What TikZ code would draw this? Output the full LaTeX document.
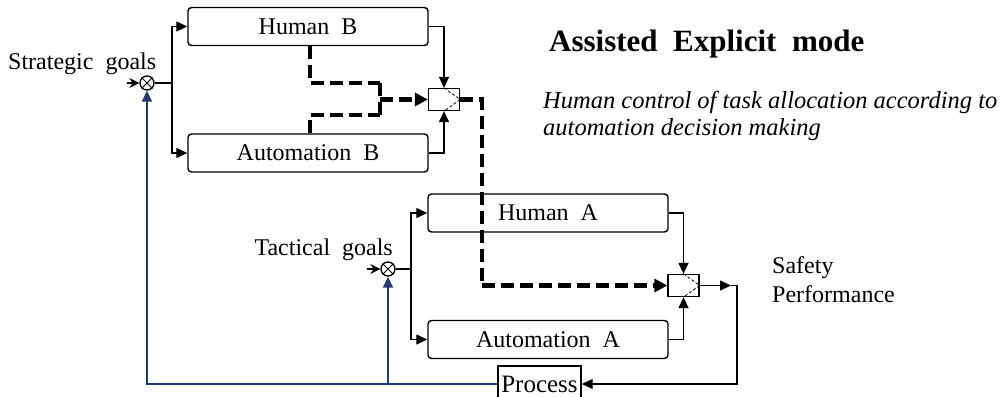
\documentclass[tikz,border=0pt]{standalone}
\usepackage{fontspec}
\setmainfont{Liberation Serif}
\usetikzlibrary{arrows.meta,calc}
\definecolor{navy}{RGB}{31,56,120}
\begin{document}
\begin{tikzpicture}[x=1pt,y=-1pt,
  box/.style={draw,rounded corners=3.5pt,line width=1.4pt,minimum width=240pt,minimum height=38pt,inner sep=0pt,font=\fontsize{24}{28}\selectfont},
  sw/.style={draw,line width=1.3pt,minimum width=31pt,minimum height=22pt,inner sep=0pt},
  sum/.style={draw,circle,line width=1.3pt,minimum size=14pt,inner sep=0pt},
  lbl/.style={inner sep=0pt,font=\fontsize{24}{28}\selectfont},
  arr/.style={line width=1.3pt,-{Triangle[length=11pt,width=10pt]}},
  inarr/.style={line width=1.3pt,-{Stealth[length=10pt,width=10pt]}},
  dsh/.style={line width=4.5pt,dash pattern=on 13pt off 6pt},
  darr/.style={dsh,-{Triangle[length=13pt,width=13pt]}},
  barr/.style={navy,line width=1.5pt,-{Triangle[length=11pt,width=10pt]}},
  ln/.style={line width=1.3pt}]
\useasboundingbox (0,0) rectangle (1008,396);
\clip (0,0) rectangle (1008,396);
% nodes
\node[box] (hb) at (308,26.5) {Human~~B};
\node[box] (ab) at (308,153) {Automation~~B};
\node[box] (ha) at (548,213) {Human~~A};
\node[box] (aa) at (548,339.5) {Automation~~A};
\node[sw] (sb) at (444,99.5) {};
\node[sw] (sa) at (683.5,285.5) {};
\node[sum] (sg) at (147,83) {};
\node[sum] (tg) at (388,269) {};
\node[draw,line width=1.4pt,minimum width=83pt,minimum height=36pt,inner sep=0pt,font=\fontsize{25}{28}\selectfont] (pr) at (539.5,384) {Process};
% cross in sums
\draw[line width=1pt] (sg.north west) -- (sg.south east) (sg.north east) -- (sg.south west);
\draw[line width=1pt] (tg.north west) -- (tg.south east) (tg.north east) -- (tg.south west);
% switch marks
\draw[line width=0.8pt,dash pattern=on 3pt off 2pt] (sb.north) -- (sb.east) -- (sb.south);
\draw[line width=0.8pt,dash pattern=on 3pt off 2pt] (sa.north) -- (sa.east) -- (sa.south);
% texts
\node[lbl,anchor=base west] (stgl) at (8,69) {Strategic~~goals};
\node[lbl,anchor=base east] (tgl) at (393,255) {Tactical~~goals};
\node[lbl,anchor=base west] (sfl) at (772,273) {Safety};
\node[lbl,anchor=base west] (pfl) at (772,302) {Performance};
\node[inner sep=0pt,anchor=base west,font=\fontsize{31}{34}\selectfont\bfseries] (ttl) at (549,52) {Assisted~~Explicit~~mode};
\node[inner sep=0pt,anchor=base west,font=\fontsize{24.5}{28}\selectfont\itshape] (it1) at (543,108) {Human control of task allocation according to};
\node[inner sep=0pt,anchor=base west,font=\fontsize{24.5}{28}\selectfont\itshape] (it2) at (543,135) {automation decision making};
% coordinates
\coordinate (sgin) at (127,83);
\coordinate (sgb) at (172,83);
\coordinate (tgin) at (367,269);
\coordinate (tgb) at (411,269);
\coordinate (d1) at (310,83);
\coordinate (d2) at (380,83);
\coordinate (d3) at (310,115);
\coordinate (d4) at (380,115);
\coordinate (dm) at (380,99.5);
\coordinate (dr) at (482,99.5);
\coordinate (drb) at (482,285.5);
\coordinate (sot) at (731,285.5);
\coordinate (so) at (737,285.5);
% strategic loop
\draw[inarr] (sgin) -- (sg.west);
\draw[ln] (sg.east) -- (sgb);
\draw[arr] (sgb) |- (hb.west);
\draw[arr] (sgb) |- (ab.west);
\draw[arr] (hb.east) -| (sb.north);
\draw[arr] (ab.east) -| (sb.south);
% tactical loop
\draw[inarr] (tgin) -- (tg.west);
\draw[ln] (tg.east) -- (tgb);
\draw[arr] (tgb) |- (ha.west);
\draw[arr] (tgb) |- (aa.west);
\draw[arr] (ha.east) -| (sa.north);
\draw[arr] (aa.east) -| (sa.south);
% dashed decision path
\draw[dsh] (hb.south -| d1) -- (d1) -- (d2);
\draw[dsh] (ab.north -| d3) -- (d3) -- (d4);
\draw[dsh] (d2) -- (d4);
\draw[darr] (dm) -- (sb.west);
\draw[dsh] (sb.east) -- (dr) -- (drb);
\draw[darr] (drb) -- (sa.west);
% output and process
\draw[arr] (sa.east) -- (sot);
\draw[arr] (sot) -- (so) |- (pr.east);
% feedback
\draw[barr] (pr.west) -| (sg.south);
\draw[barr] (pr.west -| tg.south) -- (tg.south);
\end{tikzpicture}
\end{document}
